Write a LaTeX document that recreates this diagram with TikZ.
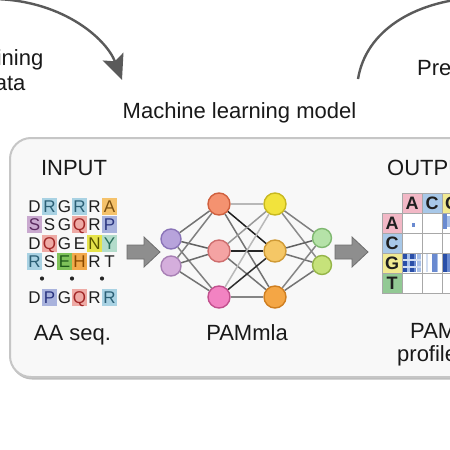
\documentclass[tikz,border=0pt]{standalone}
\usepackage{fontspec}
\setmainfont{Liberation Sans}
\usetikzlibrary{arrows.meta}
\definecolor{boxfill}{HTML}{F8F8F8}
\definecolor{boxline}{HTML}{C6C6C6}
\definecolor{boxshadow}{HTML}{BDBDBD}
\definecolor{curve}{HTML}{5A5A5A}
\definecolor{blkarrow}{HTML}{8E8E8E}
\definecolor{blkarrowd}{HTML}{6E6E6E}
% sequence colours
\definecolor{bB}{HTML}{A9D2E3}\definecolor{tB}{HTML}{2B5F75}
\definecolor{bO}{HTML}{F5C26B}\definecolor{tO}{HTML}{7A4F10}
\definecolor{bPu}{HTML}{C9A9CF}\definecolor{tPu}{HTML}{5A2A5E}
\definecolor{bPk}{HTML}{EEAAA5}\definecolor{tPk}{HTML}{A02525}
\definecolor{bL}{HTML}{A9B3DD}\definecolor{tL}{HTML}{2A3580}
\definecolor{bY}{HTML}{E6E34A}\definecolor{tY}{HTML}{5A5500}
\definecolor{bT}{HTML}{B3DCCB}\definecolor{tT}{HTML}{2A6E5C}
\definecolor{bG}{HTML}{7FC25A}\definecolor{tG}{HTML}{1F5A1A}
\definecolor{bH}{HTML}{F2A94A}\definecolor{tH}{HTML}{8A4A00}
\definecolor{tN}{HTML}{1E1E1E}
% network colours
\definecolor{nI1}{HTML}{B7A3DB}\definecolor{dI1}{HTML}{8A74B8}
\definecolor{nI2}{HTML}{D5AEDC}\definecolor{dI2}{HTML}{A880B5}
\definecolor{nA1}{HTML}{F49270}\definecolor{dA1}{HTML}{D0603E}
\definecolor{nA2}{HTML}{F4A3A3}\definecolor{dA2}{HTML}{CE6E6E}
\definecolor{nA3}{HTML}{F283C2}\definecolor{dA3}{HTML}{C2508E}
\definecolor{nB1}{HTML}{F2E33C}\definecolor{dB1}{HTML}{C8B820}
\definecolor{nB2}{HTML}{F5C766}\definecolor{dB2}{HTML}{D09A35}
\definecolor{nB3}{HTML}{F4A645}\definecolor{dB3}{HTML}{CF7E20}
\definecolor{nO1}{HTML}{B5E2A8}\definecolor{dO1}{HTML}{7FB870}
\definecolor{nO2}{HTML}{C6E27A}\definecolor{dO2}{HTML}{95B548}
% heat map
\definecolor{hPk}{HTML}{F2B8C6}
\definecolor{hBl}{HTML}{A8C8E8}
\definecolor{hYe}{HTML}{F1EA92}
\definecolor{hGr}{HTML}{92C994}
\definecolor{gridc}{HTML}{A8A8A8}
\definecolor{s1}{HTML}{2A4FA8}
\definecolor{s2}{HTML}{6A8AD0}
\definecolor{s3}{HTML}{A8C0E8}
\definecolor{s4}{HTML}{D2DEF2}
\tikzset{
  lbl/.style={font=\fontsize{22}{26}\selectfont, inner sep=0pt, text=black!90},
  aa/.style={font=\fontsize{17}{19}\selectfont, inner sep=0pt, minimum width=15pt,
     minimum height=17pt, text height=12.2pt, text depth=0pt, anchor=center},
  nn/.style={circle, inner sep=0pt, line width=1.4pt},
  edge/.style={line width=1.5pt},
  hcell/.style={font=\bfseries\fontsize{18}{20}\selectfont, inner sep=0pt, minimum width=20pt,
     minimum height=20pt, text height=13pt, text depth=0pt, draw=gridc, line width=0.8pt, text=black!88},
  bigcurve/.style={draw=curve, line width=2.4pt},
}
\begin{document}
\begin{tikzpicture}[x=1pt,y=-1pt]
\useasboundingbox (0,0) rectangle (450,450);
\clip (0,0) rectangle (450,450);
\fill[white] (0,0) rectangle (450,450);

% outer curved arrows
\coordinate (cL0) at (-12,-1);
\coordinate (cL1) at (122,80);
\draw[bigcurve, -{Stealth[length=25pt, width=22pt, inset=5pt]}] (cL0) .. controls (60,-2) and (106,38) .. (cL1);
\coordinate (cR0) at (358,79);
\coordinate (cR1) at (472,-2);
\draw[bigcurve] (cR0) .. controls (366,30) and (415,2) .. (cR1);

% top texts
\node[lbl, anchor=base] (train1) at (4,65) {Training};
\node[lbl, anchor=base] (train2) at (4,90) {data};
\node[lbl, anchor=base west] (pred) at (417,75) {Prediction};
\node[lbl, anchor=base] (mlm) at (239.5,118) {Machine learning model};

% main box with a faint shadow
\fill[boxshadow, rounded corners=21pt] (11,140) rectangle (521,379.5);
\draw[draw=boxline, fill=boxfill, line width=2pt, rounded corners=21pt] (10,138) rectangle (520,377);

\node[lbl, anchor=base] (inp) at (74,175) {INPUT};
\node[lbl, anchor=base west] (outp) at (387,175) {OUTPUT};

% amino-acid sequences
\foreach \r/\y/\row in {1/206/{D/none/tN,R/bB/tB,G/none/tN,R/bB/tB,R/none/tN,A/bO/tO},
                       2/224.5/{S/bPu/tPu,S/none/tN,G/none/tN,Q/bPk/tPk,R/none/tN,P/bL/tL},
                       3/243/{D/none/tN,Q/bPk/tPk,G/none/tN,E/none/tN,N/bY/tY,Y/bT/tT},
                       4/261.5/{R/bB/tB,S/none/tN,E/bG/tG,H/bH/tH,R/none/tN,T/none/tN},
                       5/297/{D/none/tN,P/bL/tL,G/none/tN,Q/bPk/tPk,R/none/tN,R/bB/tB}}{
  \foreach \L/\bc/\tc [count=\c] in \row {
    \node[aa, fill=\bc, text=\tc] (t\r-\c) at ({34.5+15*(\c-1)},\y) {\L};
  }
}
\foreach \x [count=\i] in {42,72,102}{
  \fill[black!85] (\x,278.5) circle (2.1pt) coordinate (dot\i);
}
\node[lbl, anchor=base] (aaseq) at (72.5,340) {AA seq.};

% block arrows
\filldraw[fill=blkarrow, draw=blkarrowd, line width=0.8pt]
  (127,245) -- (144,245) -- (144,237) -- (160,252) -- (144,267) -- (144,259) -- (127,259) -- cycle;
\filldraw[fill=blkarrow, draw=blkarrowd, line width=0.8pt]
  (335,245) -- (352,245) -- (352,237) -- (368,252) -- (352,267) -- (352,259) -- (335,259) -- cycle;

% network nodes
\node[nn, minimum size=20pt, fill=nI1, draw=dI1] (i1) at (171,239) {};
\node[nn, minimum size=20pt, fill=nI2, draw=dI2] (i2) at (171,266) {};
\node[nn, minimum size=22pt, fill=nA1, draw=dA1] (a1) at (219,204) {};
\node[nn, minimum size=22pt, fill=nA2, draw=dA2] (a2) at (219,251) {};
\node[nn, minimum size=22pt, fill=nA3, draw=dA3] (a3) at (219,297) {};
\node[nn, minimum size=22pt, fill=nB1, draw=dB1] (b1) at (275,204) {};
\node[nn, minimum size=22pt, fill=nB2, draw=dB2] (b2) at (275,251) {};
\node[nn, minimum size=22pt, fill=nB3, draw=dB3] (b3) at (275,297) {};
\node[nn, minimum size=19pt, fill=nO1, draw=dO1] (o1) at (322,238) {};
\node[nn, minimum size=19pt, fill=nO2, draw=dO2] (o2) at (322,265) {};

% network edges
\draw[edge, black!55] (i1) -- (a1);
\draw[edge, black!62] (i1) -- (a2);
\draw[edge, black!50] (i1) -- (a3);
\draw[edge, black!50] (i2) -- (a1);
\draw[edge, black!58] (i2) -- (a2);
\draw[edge, black!55] (i2) -- (a3);
\draw[edge, black!28] (a1) -- (b1);
\draw[edge, black!88] (a1) -- (b2);
\draw[edge, black!55] (a1) -- (b3);
\draw[edge, black!40] (a2) -- (b1);
\draw[edge, black!85] (a2) -- (b2);
\draw[edge, black!55] (a2) -- (b3);
\draw[edge, black!28] (a3) -- (b1);
\draw[edge, black!82] (a3) -- (b2);
\draw[edge, black!48] (a3) -- (b3);
\draw[edge, black!50] (b1) -- (o1);
\draw[edge, black!45] (b1) -- (o2);
\draw[edge, black!62] (b2) -- (o1);
\draw[edge, black!55] (b2) -- (o2);
\draw[edge, black!48] (b3) -- (o1);
\draw[edge, black!55] (b3) -- (o2);

\node[lbl, anchor=base] (pamla) at (247,340) {PAMmla};

% heat map
\fill[white] (402,213) rectangle (480,293);
% stripes, G row
\fill[s1] (403,254) rectangle (407,272);
\fill[s3] (407,254) rectangle (409.5,272);
\fill[s1] (410,254) rectangle (413.5,272);
\fill[s2] (413.5,254) rectangle (416,272);
\fill[s3] (417,254) rectangle (421,272);
\fill[s4] (403,259) rectangle (421,260.5);
\fill[s4] (403,266) rectangle (421,267.5);
\fill[s4] (426,254) rectangle (428,272);
\fill[s2] (432,254) rectangle (436.5,272);
\fill[s3] (436.5,254) rectangle (438,272);
\fill[s1] (443,254) rectangle (447,272);
\fill[s2] (447,254) rectangle (450,272);
% A row
\fill[s2] (411.5,223) rectangle (415,227);
\fill[s2] (443,214) rectangle (447,229);
\fill[s3] (447,216) rectangle (450,227);
% grid
\foreach \yy in {213,233,253,273,293} \draw[gridc, line width=0.8pt] (382,\yy) -- (480,\yy);
\foreach \xx in {402,422,442,462} \draw[gridc, line width=0.8pt] (\xx,193) -- (\xx,293);
\node[hcell, fill=hPk] (hA) at (412,203) {A};
\node[hcell, fill=hBl] (hC) at (432,203) {C};
\node[hcell, fill=hYe] (hG) at (452,203) {G};
\node[hcell, fill=hPk] (rA) at (392,223) {A};
\node[hcell, fill=hBl] (rC) at (392,243) {C};
\node[hcell, fill=hYe] (rG) at (392,263) {G};
\node[hcell, fill=hGr] (rT) at (392,283) {T};

\node[lbl, anchor=base west] (pam) at (410,338) {PAM};
\node[lbl, anchor=base west] (prof) at (397,361) {profile};
\end{tikzpicture}
\end{document}
